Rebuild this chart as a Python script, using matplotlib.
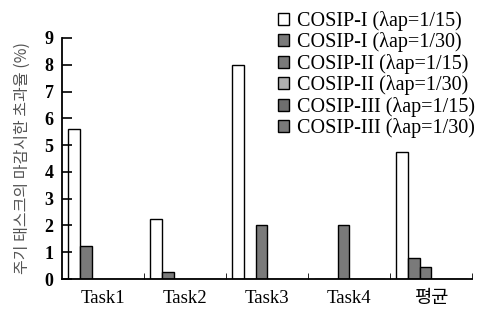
import matplotlib
matplotlib.use("Agg")
import matplotlib.pyplot as plt
import numpy as np

categories = ["Task1", "Task2", "Task3", "Task4", "평균"]
series_names = ["COSIP-I (λap=1/15)", "COSIP-I (λap=1/30)", "COSIP-II (λap=1/15)",
                "COSIP-II (λap=1/30)", "COSIP-III (λap=1/15)", "COSIP-III (λap=1/30)"]
values = [
    [5.6, 2.25, 8.0, 0.0, 4.75],
    [1.25, 0.25, 0.0, 0.0, 0.78],
    [0.0, 0.0, 2.0, 2.0, 0.45],
    [0.0, 0.0, 0.0, 0.0, 0.0],
    [0.0, 0.0, 0.0, 0.0, 0.0],
    [0.0, 0.0, 0.0, 0.0, 0.0],
]
colors = ["white", "#7a7a7a", "#7a7a7a", "#b0b0b0", "#6e6e6e", "#7a7a7a"]
yticks = list(range(10))

fig = plt.figure(figsize=(4.96, 3.15), dpi=100)
ax = fig.add_axes([62/496, 1-279/315, (472-62)/496, (279-38)/315])

serif = ["Liberation Serif", "DejaVu Serif"]
w = 0.145
x = np.arange(len(categories))
for j, (name, vals, c) in enumerate(zip(series_names, values, colors)):
    ax.bar(x + 0.07 + j*w, vals, width=w, align="edge", color=c,
           edgecolor="black", linewidth=1.0, label=name)

ax.set_xlim(0, len(categories))
ax.set_ylim(0, 9)
ax.set_yticks(yticks)
ax.set_yticklabels([str(t) for t in yticks], fontfamily=serif, fontsize=13, fontweight="bold")
ax.set_xticks(x + 0.5)
ax.set_xticklabels(categories, fontsize=13.5, family=serif + ["Noto Sans CJK KR"])
ax.set_xticks(np.arange(1, len(categories)+1), minor=True)
ax.tick_params(axis="x", which="major", length=0, pad=8)
ax.tick_params(axis="x", which="minor", direction="in", length=4)
ax.tick_params(axis="y", direction="in", length=7, width=1.2, pad=6)
for s in ["top", "right"]:
    ax.spines[s].set_visible(False)
for s in ["left", "bottom"]:
    ax.spines[s].set_linewidth(1.3)

ax.set_ylabel("주기 태스크의 마감시한 초과율 (%)", fontfamily=["Noto Sans CJK KR"],
              fontsize=11.5, color="#555555", labelpad=10)

leg = fig.legend(loc="upper left", bbox_to_anchor=(270/496, 1-3/315), frameon=False,
                 prop={"family": serif, "size": 14.5}, handlelength=0.55, handleheight=0.55,
                 handletextpad=0.4, labelspacing=0.07, borderaxespad=0)

fig.savefig("out.png", dpi=100)
